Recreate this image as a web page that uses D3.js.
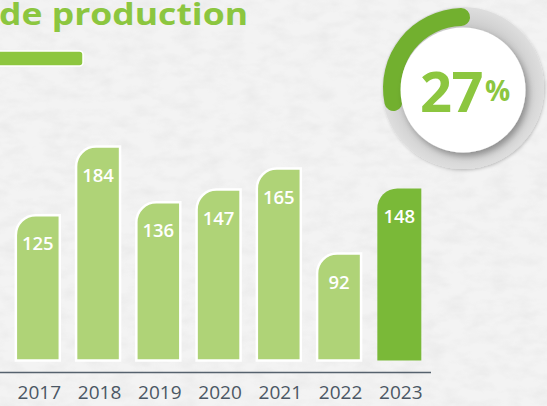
<!DOCTYPE html>
<html><head><meta charset="utf-8">
<script src="https://cdn.jsdelivr.net/npm/d3@7"></script>
<style>html,body{margin:0;padding:0;background:#f1f1f1;overflow:hidden}</style>
</head><body>
<div id="chart"></div>
<script>
const years = ["2017","2018","2019","2020","2021","2022","2023"];
const values = [125,184,136,147,165,92,148];
const highlightYear = "2023";
const titleText = "de production";
const share = 27;

const W = 547, H = 406;
const svg = d3.select("#chart").append("svg").attr("width", W).attr("height", H);
const defs = svg.append("defs");

// paper texture
const tex = defs.append("filter").attr("id","paper").attr("x",0).attr("y",0).attr("width","100%").attr("height","100%");
tex.append("feTurbulence").attr("type","fractalNoise").attr("baseFrequency","0.045 0.09").attr("numOctaves",3).attr("seed",4).attr("result","n");
tex.append("feColorMatrix").attr("in","n").attr("type","matrix")
  .attr("values","0 0 0 0 0.55  0 0 0 0 0.55  0 0 0 0 0.55  0 0 0 -0.9 0.55");
svg.append("rect").attr("width",W).attr("height",H).attr("fill","#f3f3f3");
svg.append("rect").attr("width",W).attr("height",H).attr("filter","url(#paper)").attr("opacity",0.35);

// shadows
const sh = defs.append("filter").attr("id","shadow").attr("x","-30%").attr("y","-30%").attr("width","160%").attr("height","160%");
sh.append("feDropShadow").attr("dx",3).attr("dy",4).attr("stdDeviation",3).attr("flood-color","#000").attr("flood-opacity",0.3);
const sh2 = defs.append("filter").attr("id","shadow2").attr("x","-30%").attr("y","-30%").attr("width","160%").attr("height","160%");
sh2.append("feDropShadow").attr("dx",1).attr("dy",1.5).attr("stdDeviation",1.5).attr("flood-color","#000").attr("flood-opacity",0.2);
const rg = defs.append("radialGradient").attr("id","ringGrad");
rg.append("stop").attr("offset","72%").attr("stop-color","#c6c6c6");
rg.append("stop").attr("offset","86%").attr("stop-color","#d4d4d4");
rg.append("stop").attr("offset","100%").attr("stop-color","#dedede");

// title
svg.append("text").attr("x",-1).attr("y",25).text(titleText)
  .attr("font-family","'Open Sans', sans-serif").attr("font-weight",700).attr("font-size",31)
  .attr("fill","#8cc63f").attr("textLength",249).attr("lengthAdjust","spacingAndGlyphs");
svg.append("rect").attr("x",-6).attr("y",51).attr("width",89).attr("height",15).attr("rx",3.5)
  .attr("fill","#8dc63f").attr("stroke","#fff").attr("stroke-width",1.5);

// donut
const cx = 463, cy = 88;
const g = svg.append("g").attr("transform",`translate(${cx},${cy})`);
g.append("circle").attr("r",81).attr("fill","url(#ringGrad)").attr("filter","url(#shadow2)");
const arc = d3.arc().innerRadius(62).outerRadius(80).cornerRadius(9);
const a1 = -(share/100)*2*Math.PI - 0.2;
g.append("path").attr("d", arc({startAngle:a1, endAngle:0.1})).attr("fill","#72b02f");
g.append("circle").attr("cy",2).attr("r",62.5).attr("fill","#fff").attr("filter","url(#shadow)");
const pt = g.append("text").attr("x",-43).attr("y",23.5)
  .attr("font-family","'Open Sans', sans-serif").attr("font-weight",700).attr("fill","#8cc63f");
pt.append("tspan").attr("font-size",56).attr("letter-spacing",-0.5).text(String(share));
pt.append("tspan").attr("font-size",28).attr("dx",2).attr("dy",-11).text("%");

// bars
const x = d3.scaleBand().domain(years).range([7.7, 429.45]).paddingInner(0.27).paddingOuter(0.135);
const y = d3.scaleLinear().domain([0,200]).range([360.5, 127.9]);
const r = 20;
function barPath(d, i){
  const x0 = x(d), w = x.bandwidth(), top = y(values[i]), bot = y(0);
  return `M${x0},${bot}V${top+r}A${r},${r} 0 0 1 ${x0+r},${top}H${x0+w}V${bot}Z`;
}
svg.append("g").selectAll("path").data(years).join("path")
  .attr("d", barPath)
  .attr("fill", d => d === highlightYear ? "#7ab938" : "#afd377")
  .attr("stroke", d => d === highlightYear ? "none" : "#fff")
  .attr("stroke-width", 2.5);
svg.append("g").selectAll("text").data(years).join("text")
  .attr("x", d => x(d) + x.bandwidth()/2)
  .attr("y", (d,i) => y(values[i]) + 35)
  .attr("text-anchor","middle")
  .attr("font-family","'Open Sans', sans-serif").attr("font-weight",600).attr("font-size",18.5)
  .attr("fill","#fff").text((d,i) => values[i]);

// axis
const axisG = svg.append("g").attr("transform","translate(0,372.5)")
  .call(d3.axisBottom(x).tickSize(0).tickPadding(13));
axisG.select(".domain").attr("d","M0,0H431").attr("stroke","#56626e").attr("stroke-width",1.5);
axisG.selectAll("text").attr("font-family","'Open Sans', sans-serif").attr("font-size",19)
  .attr("fill","#4b5764").attr("dy","0.71em").attr("dx",1.5);
</script>
</body></html>
